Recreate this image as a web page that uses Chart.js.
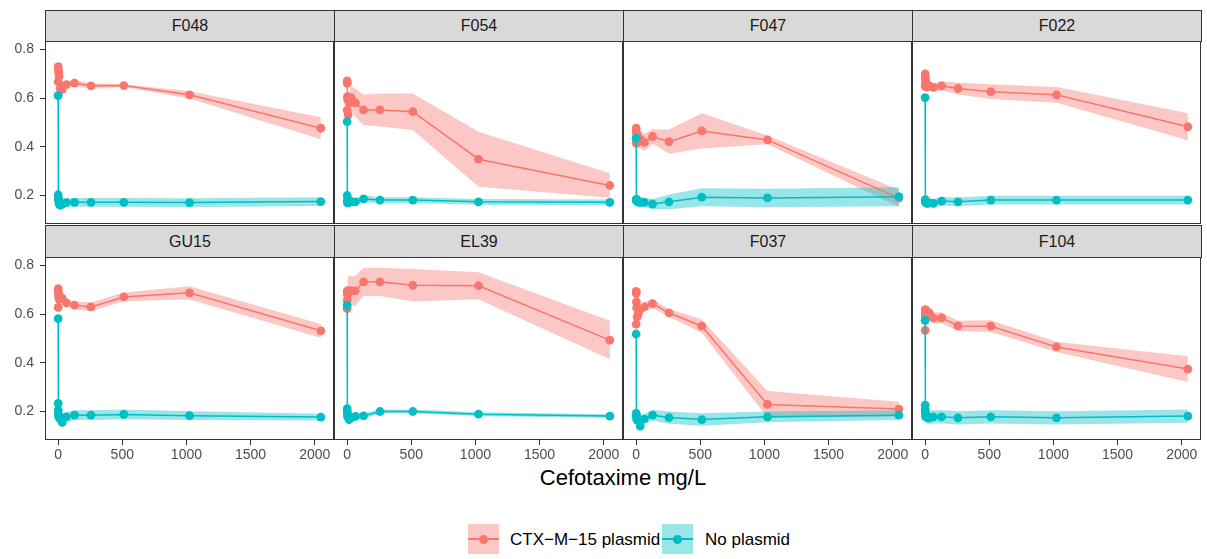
<!DOCTYPE html>
<html>
<head>
<meta charset="utf-8">
<script src="https://cdn.jsdelivr.net/npm/chart.js@4/dist/chart.umd.min.js"></script>
<style>
  body { margin: 0; background: #fff; font-family: "Liberation Sans", Arial, Helvetica, sans-serif; }
  #page { position: relative; width: 1207px; height: 559px; overflow: hidden; }
  canvas { position: absolute; }
  .strip {
    position: absolute; box-sizing: border-box; border: 1px solid #333;
    background: #d9d9d9; color: #1a1a1a; font-size: 16px; text-align: center;
  }
  #xtitle {
    position: absolute; left: 45px; width: 1156px; top: 467px;
    text-align: center; font-size: 22px; line-height: 22px; color: #000;
  }
  .key { position: absolute; top: 524px; width: 31px; height: 30px; }
  .key .ln { position: absolute; left: 0; right: 0; top: 14px; height: 1.6px; }
  .key .pt { position: absolute; left: 11px; top: 10.5px; width: 9px; height: 9px; border-radius: 50%; }
  .ltxt { position: absolute; top: 531px; font-size: 17px; line-height: 17px; color: #000; white-space: nowrap; }
</style>
</head>
<body>
<div id="page">
  <div id="xtitle">Cefotaxime mg/L</div>
  <div class="key" style="left:468px; background:rgba(248,118,109,0.4)">
    <div class="ln" style="background:#F8766D"></div><div class="pt" style="background:#F8766D"></div>
  </div>
  <div class="ltxt" style="left:510px">CTX−M−15 plasmid</div>
  <div class="key" style="left:662px; background:rgba(0,191,196,0.4)">
    <div class="ln" style="background:#00BFC4"></div><div class="pt" style="background:#00BFC4"></div>
  </div>
  <div class="ltxt" style="left:705px">No plasmid</div>
</div>
<script>
// concentrations (mg/L) and strains, in facet order
const conc = [0, 0.5, 1, 2, 4, 8, 16, 32, 64, 128, 256, 512, 1024, 2048];
const strains = ['F048', 'F054', 'F047', 'F022', 'GU15', 'EL39', 'F037', 'F104'];

// CTX-M-15 plasmid: mean and ribbon half-width, one row per strain
const ctxMean = [
  [0.610, 0.667, 0.729, 0.715, 0.704, 0.690, 0.640, 0.635, 0.655, 0.661, 0.650, 0.651, 0.613, 0.476],
  [0.550, 0.670, 0.660, 0.606, 0.592, 0.531, 0.580, 0.600, 0.580, 0.551, 0.551, 0.544, 0.349, 0.241],
  [0.415, 0.476, 0.460, 0.440, 0.430, 0.450, 0.420, 0.430, 0.418, 0.442, 0.421, 0.465, 0.428, 0.189],
  [0.648, 0.699, 0.687, 0.678, 0.665, 0.660, 0.645, 0.650, 0.644, 0.650, 0.639, 0.626, 0.613, 0.482],
  [0.627, 0.704, 0.690, 0.685, 0.670, 0.660, 0.665, 0.665, 0.646, 0.636, 0.629, 0.670, 0.687, 0.531],
  [0.622, 0.656, 0.695, 0.680, 0.690, 0.695, 0.695, 0.695, 0.695, 0.732, 0.732, 0.718, 0.716, 0.493],
  [0.558, 0.693, 0.685, 0.650, 0.625, 0.588, 0.600, 0.620, 0.629, 0.643, 0.605, 0.550, 0.229, 0.210],
  [0.533, 0.618, 0.605, 0.590, 0.600, 0.610, 0.600, 0.605, 0.584, 0.584, 0.551, 0.550, 0.465, 0.374]
];
const ctxErr = [
  [0.020, 0.020, 0.020, 0.020, 0.020, 0.020, 0.020, 0.015, 0.015, 0.012, 0.012, 0.006, 0.015, 0.045],
  [0.030, 0.080, 0.040, 0.030, 0.030, 0.030, 0.040, 0.050, 0.058, 0.062, 0.068, 0.075, 0.113, 0.050],
  [0.030, 0.070, 0.040, 0.030, 0.030, 0.030, 0.030, 0.035, 0.035, 0.030, 0.050, 0.072, 0.018, 0.035],
  [0.020, 0.030, 0.020, 0.020, 0.020, 0.020, 0.020, 0.018, 0.018, 0.018, 0.025, 0.030, 0.032, 0.055],
  [0.020, 0.020, 0.020, 0.020, 0.020, 0.020, 0.020, 0.018, 0.017, 0.016, 0.018, 0.018, 0.027, 0.028],
  [0.050, 0.090, 0.080, 0.070, 0.060, 0.060, 0.060, 0.060, 0.062, 0.058, 0.058, 0.067, 0.055, 0.079],
  [0.030, 0.020, 0.020, 0.020, 0.020, 0.020, 0.020, 0.020, 0.020, 0.018, 0.016, 0.027, 0.055, 0.030],
  [0.030, 0.030, 0.025, 0.025, 0.025, 0.025, 0.025, 0.025, 0.023, 0.023, 0.021, 0.024, 0.021, 0.053]
];

// No plasmid: mean and ribbon half-width
const noMean = [
  [0.610, 0.203, 0.190, 0.185, 0.175, 0.165, 0.160, 0.165, 0.171, 0.172, 0.172, 0.172, 0.171, 0.175],
  [0.503, 0.200, 0.180, 0.170, 0.175, 0.170, 0.180, 0.174, 0.174, 0.186, 0.181, 0.181, 0.174, 0.172],
  [0.435, 0.182, 0.180, 0.185, 0.178, 0.176, 0.175, 0.172, 0.172, 0.165, 0.174, 0.193, 0.190, 0.195],
  [0.602, 0.183, 0.178, 0.175, 0.172, 0.170, 0.168, 0.170, 0.168, 0.177, 0.174, 0.181, 0.181, 0.181],
  [0.581, 0.233, 0.206, 0.190, 0.180, 0.175, 0.170, 0.155, 0.178, 0.185, 0.185, 0.188, 0.183, 0.177],
  [0.636, 0.212, 0.200, 0.190, 0.180, 0.175, 0.167, 0.175, 0.180, 0.182, 0.200, 0.200, 0.189, 0.181],
  [0.518, 0.192, 0.185, 0.180, 0.170, 0.165, 0.170, 0.140, 0.170, 0.185, 0.175, 0.167, 0.178, 0.185],
  [0.574, 0.226, 0.208, 0.195, 0.180, 0.178, 0.175, 0.174, 0.178, 0.178, 0.174, 0.178, 0.174, 0.181]
];
const noErr = [
  [0.010, 0.018, 0.018, 0.018, 0.018, 0.018, 0.018, 0.018, 0.018, 0.018, 0.018, 0.018, 0.018, 0.018],
  [0.010, 0.012, 0.012, 0.012, 0.012, 0.012, 0.012, 0.012, 0.012, 0.015, 0.012, 0.012, 0.012, 0.012],
  [0.010, 0.025, 0.025, 0.025, 0.025, 0.025, 0.025, 0.022, 0.020, 0.020, 0.030, 0.037, 0.038, 0.039],
  [0.010, 0.020, 0.020, 0.020, 0.020, 0.020, 0.020, 0.018, 0.018, 0.018, 0.018, 0.018, 0.018, 0.018],
  [0.010, 0.020, 0.020, 0.020, 0.020, 0.020, 0.020, 0.020, 0.020, 0.020, 0.020, 0.020, 0.018, 0.014],
  [0.010, 0.012, 0.012, 0.012, 0.012, 0.012, 0.015, 0.015, 0.015, 0.012, 0.008, 0.008, 0.008, 0.008],
  [0.010, 0.020, 0.020, 0.020, 0.020, 0.020, 0.020, 0.020, 0.020, 0.022, 0.025, 0.026, 0.022, 0.020],
  [0.010, 0.025, 0.025, 0.025, 0.025, 0.025, 0.025, 0.027, 0.027, 0.027, 0.027, 0.027, 0.027, 0.027]
];

const yTicks = [0.2, 0.4, 0.6, 0.8];
const xTicks = [0, 500, 1000, 1500, 2000];

const RED = '#F8766D', TEAL = '#00BFC4';
const FONT = '"Liberation Sans", Arial, Helvetica, sans-serif';

// layout of the facets
const panelLeft = [45, 334, 623, 912];
const panelW = 289, panelH = 183;
const stripTop = [10, 225];
const plotTop = [41, 257];
const yAxisW = 45, xAxisH = 32;

const page = document.getElementById('page');

// border round each panel
const panelBorder = {
  id: 'panelBorder',
  afterDraw(chart) {
    const a = chart.chartArea, c = chart.ctx;
    c.save();
    c.strokeStyle = '#333';
    c.lineWidth = 1;
    c.strokeRect(a.left + 0.5, a.top + 0.5, a.right - a.left - 1, a.bottom - a.top - 1);
    c.restore();
  }
};

function pts(vals, off) {
  return conc.map((x, i) => ({ x: x, y: vals[i] + (off ? off[i] : 0) }));
}
function neg(arr) { return arr.map(v => -v); }

strains.forEach((name, k) => {
  const row = Math.floor(k / 4), col = k % 4;
  const left = col === 0;
  const bottom = row === 1;

  const strip = document.createElement('div');
  strip.className = 'strip';
  strip.textContent = name;
  strip.style.left = panelLeft[col] + 'px';
  strip.style.top = stripTop[row] + 'px';
  strip.style.width = (panelW + 1) + 'px';
  strip.style.height = (plotTop[row] - stripTop[row] + 1) + 'px';
  strip.style.lineHeight = (plotTop[row] - stripTop[row] - 1) + 'px';
  page.appendChild(strip);

  const cv = document.createElement('canvas');
  const w = panelW + (left ? yAxisW : 0);
  const h = panelH + (bottom ? xAxisH : 0);
  cv.width = w; cv.height = h;
  cv.style.width = w + 'px'; cv.style.height = h + 'px';
  cv.style.left = (left ? panelLeft[col] - yAxisW : panelLeft[col]) + 'px';
  cv.style.top = plotTop[row] + 'px';
  page.appendChild(cv);

  const hidden = { borderColor: 'transparent', borderWidth: 0, pointRadius: 0, backgroundColor: 'transparent', fill: false };

  new Chart(cv, {
    type: 'line',
    data: {
      datasets: [
        { label: 'No plasmid', data: pts(noMean[k]), borderColor: TEAL, backgroundColor: TEAL,
          borderWidth: 1.5, pointRadius: 4.4, pointBorderWidth: 0, pointBackgroundColor: TEAL, fill: false },
        { label: 'CTX−M−15 plasmid', data: pts(ctxMean[k]), borderColor: RED, backgroundColor: RED,
          borderWidth: 1.5, pointRadius: 4.4, pointBorderWidth: 0, pointBackgroundColor: RED, fill: false },
        Object.assign({ data: pts(noMean[k], noErr[k]) }, hidden),
        Object.assign({}, hidden, { data: pts(noMean[k], neg(noErr[k])), fill: '-1', backgroundColor: 'rgba(0,191,196,0.4)' }),
        Object.assign({ data: pts(ctxMean[k], ctxErr[k]) }, hidden),
        Object.assign({}, hidden, { data: pts(ctxMean[k], neg(ctxErr[k])), fill: '-1', backgroundColor: 'rgba(248,118,109,0.4)' })
      ]
    },
    options: {
      responsive: false,
      animation: false,
      events: [],
      layout: { padding: 0, autoPadding: false },
      plugins: { legend: { display: false }, tooltip: { enabled: false } },
      elements: { line: { tension: 0 } },
      scales: {
        x: {
          type: 'linear', min: -102.4, max: 2150.4, display: bottom,
          afterBuildTicks: s => { s.ticks = xTicks.map(v => ({ value: v })); },
          afterFit: s => {
            s.height = bottom ? xAxisH : 0;
            s.paddingLeft = 0; s.paddingRight = 0; s.paddingTop = 0; s.paddingBottom = 0;
          },
          grid: { display: true, drawOnChartArea: false, drawTicks: true, tickLength: 5, color: '#333' },
          border: { display: false },
          ticks: { color: '#4d4d4d', font: { size: 14, family: FONT }, padding: 2, maxRotation: 0, autoSkip: false,
                   callback: v => String(v) }
        },
        y: {
          type: 'linear', min: 0.083, max: 0.834, display: left,
          afterBuildTicks: s => { s.ticks = yTicks.map(v => ({ value: v })); },
          afterFit: s => {
            s.width = left ? yAxisW : 0;
            s.paddingLeft = 0; s.paddingRight = 0; s.paddingTop = 0; s.paddingBottom = 0;
          },
          grid: { display: true, drawOnChartArea: false, drawTicks: true, tickLength: 5, color: '#333' },
          border: { display: false },
          ticks: { color: '#4d4d4d', font: { size: 14, family: FONT }, padding: 6,
                   callback: v => v.toFixed(1) }
        }
      }
    },
    plugins: [panelBorder]
  });
});
</script>
</body>
</html>
